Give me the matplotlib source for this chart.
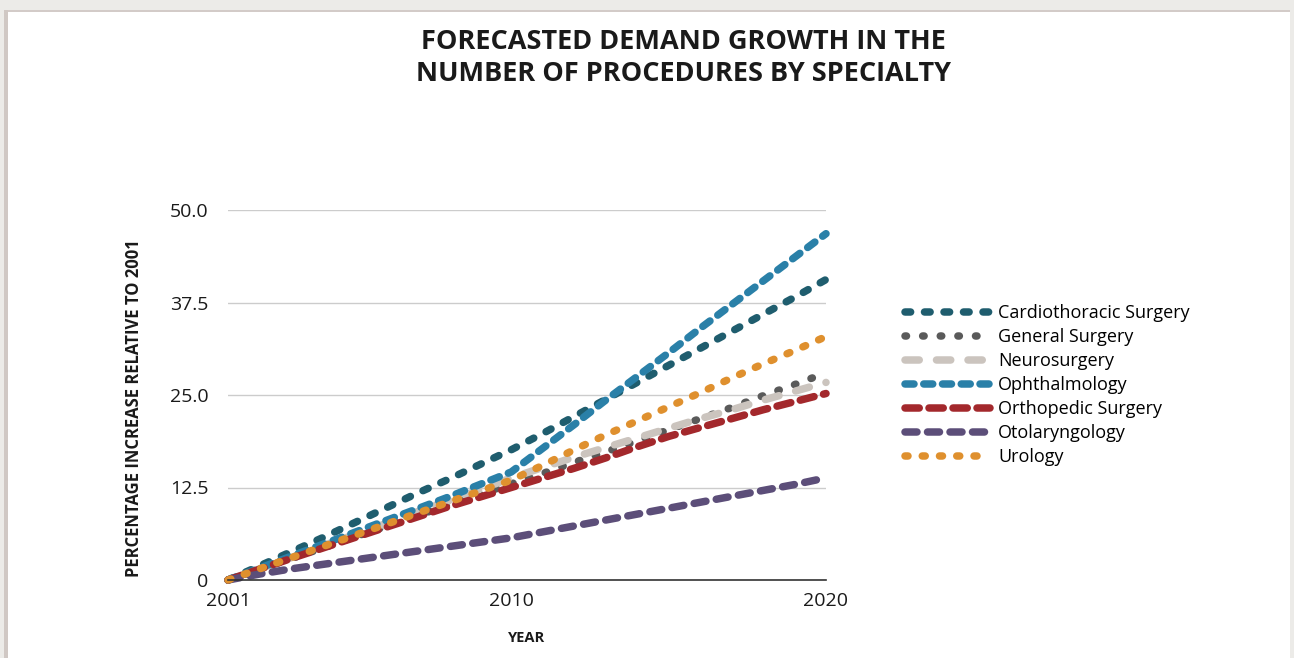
import matplotlib
matplotlib.use("Agg")
import matplotlib.pyplot as plt
from matplotlib.patches import Rectangle

# Données (hausse en % par rapport à 2001)
annees = list(range(2001, 2021))

cardiothoracique = [0, 1.9, 3.8, 5.7, 7.7, 9.7, 11.7, 13.6, 15.6, 17.6,
                    19.8, 22.1, 24.4, 26.7, 29.0, 31.3, 33.6, 35.9, 38.2, 40.6]
chirurgie_generale = [0, 1.45, 2.9, 4.3, 5.8, 7.2, 8.7, 10.1, 11.6, 13.0,
                      14.4, 15.9, 17.3, 18.8, 20.3, 21.8, 23.3, 24.9, 26.4, 28.0]
neurochirurgie = [0, 1.5, 3.0, 4.6, 6.1, 7.6, 9.2, 10.7, 12.2, 13.8,
                  15.2, 16.6, 17.9, 19.2, 20.5, 21.8, 23.0, 24.3, 25.5, 26.7]
ophtalmologie = [0, 1.6, 3.2, 4.8, 6.4, 8.0, 9.6, 11.2, 12.9, 14.6,
                 17.8, 21.0, 24.3, 27.5, 30.7, 34.0, 37.2, 40.4, 43.6, 46.8]
orthopedie = [0, 1.45, 2.9, 4.3, 5.7, 7.1, 8.5, 9.9, 11.2, 12.5,
              13.8, 15.1, 16.5, 18.0, 19.4, 20.6, 21.8, 23.0, 24.1, 25.2]
orl = [0, 0.8, 1.5, 2.1, 2.7, 3.3, 3.9, 4.5, 5.1, 5.7,
       6.5, 7.3, 8.1, 8.9, 9.7, 10.5, 11.3, 12.1, 12.9, 13.8]
urologie = [0, 1.5, 3.0, 4.5, 6.0, 7.5, 9.0, 10.5, 12.0, 13.5,
            15.5, 17.6, 19.6, 21.5, 23.4, 25.3, 27.3, 29.2, 31.0, 32.9]

noms = ["Cardiothoracic Surgery", "General Surgery", "Neurosurgery",
        "Ophthalmology", "Orthopedic Surgery", "Otolaryngology", "Urology"]
series = [cardiothoracique, chirurgie_generale, neurochirurgie,
          ophtalmologie, orthopedie, orl, urologie]

couleurs = ["#1f5d6e", "#5a5a5a", "#cbc4be", "#2a80a8", "#a3282c", "#5c4e79", "#df902e"]
tirets = [(0, (0.75, 1.85)), (0, (0.2, 2.15)), (0, (1.9, 2.3)), (0, (1.2, 1.3)),
          (0, (1.9, 1.3)), (0, (1.6, 1.4)), (0, (0.4, 1.9))]

y_ticks = [0, 12.5, 25, 37.5, 50]
y_labels = ["0", "12.5", "25.0", "37.5", "50.0"]
x_ticks = [2001, 2010, 2020]

plt.rcParams['font.family'] = ['Open Sans', 'DejaVu Sans']

fig = plt.figure(figsize=(12.94, 6.58), dpi=100)
fig.patch.set_facecolor("white")

# Bordure grise autour de la carte
fig.patches.append(Rectangle((0, 1 - 10/658), 1, 10/658, transform=fig.transFigure,
                             facecolor="#ecebe8", edgecolor="none", zorder=0))
fig.patches.append(Rectangle((0, 1 - 12/658), 1, 2.5/658, transform=fig.transFigure,
                             facecolor="#d3cbc8", edgecolor="none", zorder=0))
fig.patches.append(Rectangle((0, 0), 4/1294, 1, transform=fig.transFigure,
                             facecolor="#ecebe8", edgecolor="none", zorder=0))
fig.patches.append(Rectangle((4/1294, 0), 4/1294, 1 - 10/658, transform=fig.transFigure,
                             facecolor="#d0c8c4", edgecolor="none", zorder=0))
fig.patches.append(Rectangle((1 - 4/1294, 0), 4/1294, 1, transform=fig.transFigure,
                             facecolor="#ecebe8", edgecolor="none", zorder=0))

ax = fig.add_axes([228/1294, 1 - 580/658, 598/1294, 370/658])

for valeurs, nom, c, d in zip(series, noms, couleurs, tirets):
    ax.plot(annees, valeurs, color=c, lw=5.4, linestyle=d,
            dash_capstyle="round", solid_capstyle="round", label=nom, clip_on=False)

ax.set_xlim(2001, 2020)
ax.set_ylim(0, 50)
ax.set_yticks(y_ticks)
ax.set_yticklabels(y_labels)
ax.set_xticks(x_ticks)
ax.tick_params(axis="both", length=0, labelsize=14, colors="#1a1a1a")
ax.tick_params(axis="y", pad=14)
ax.tick_params(axis="x", pad=9)
ax.grid(axis="y", color="#cccccc", lw=1)
ax.set_axisbelow(True)
for s in ["top", "right", "left"]:
    ax.spines[s].set_visible(False)
ax.spines["bottom"].set_color("#333333")
ax.spines["bottom"].set_linewidth(1.2)

ax.set_xlabel("YEAR", fontsize=10.5, fontweight="bold", color="#1a1a1a", labelpad=15)
ax.set_ylabel("PERCENTAGE INCREASE RELATIVE TO 2001", fontsize=12, fontweight="bold",
              color="#1a1a1a")
ax.yaxis.set_label_coords(-0.142, 0.465)

fig.text(0.528, 1 - 42/658, "FORECASTED DEMAND GROWTH IN THE", ha="center", va="center",
         fontsize=19.5, fontweight="bold", color="#1a1a1a")
fig.text(0.528, 1 - 74/658, "NUMBER OF PROCEDURES BY SPECIALTY", ha="center", va="center",
         fontsize=19.5, fontweight="bold", color="#1a1a1a")

fig.legend(loc="center left", bbox_to_anchor=(905/1294, 1 - 385/658), frameon=False,
           fontsize=13, handlelength=4.7, handletextpad=0.45, labelspacing=0.33,
           borderpad=0, borderaxespad=0)

plt.savefig("out.png", dpi=100)
